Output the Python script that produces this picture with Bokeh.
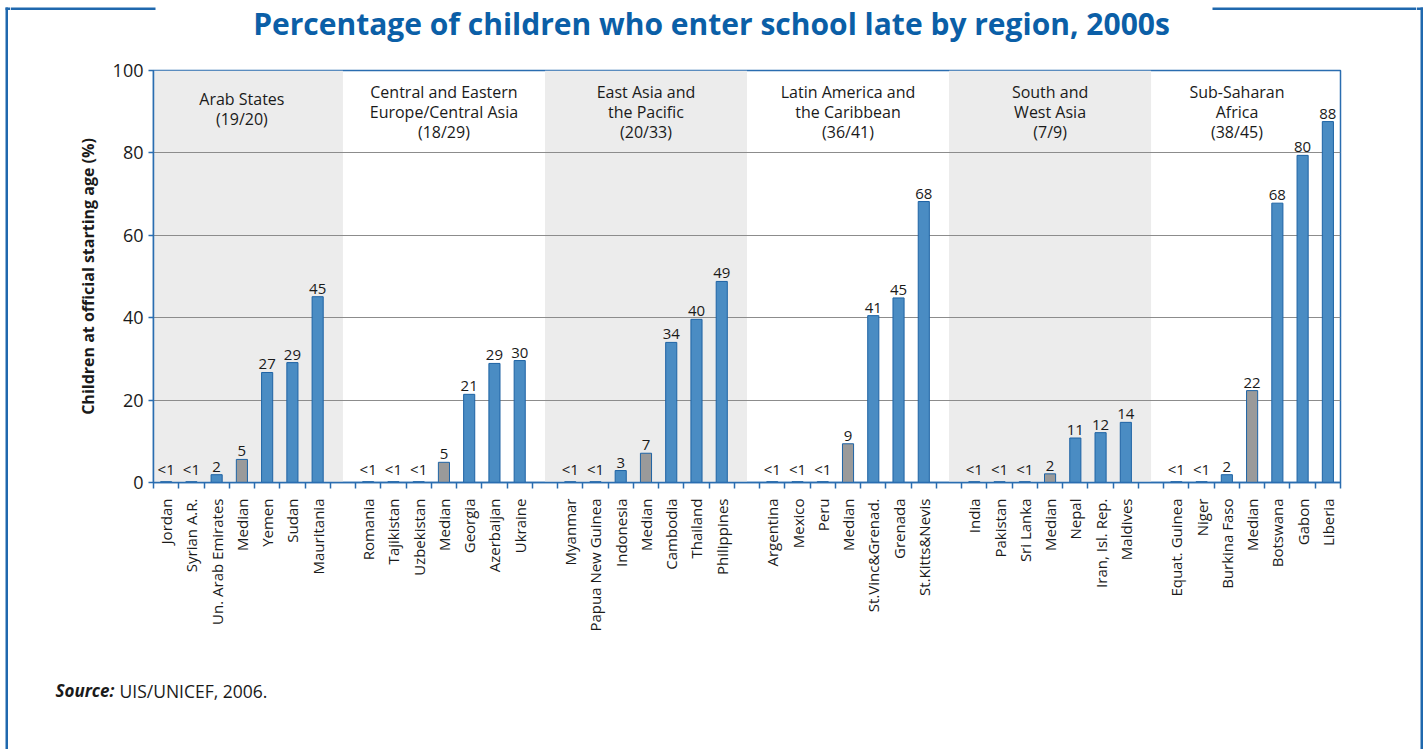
import math
from bokeh.plotting import figure
from bokeh.layouts import row, column
from bokeh.models import FixedTicker, BoxAnnotation, ColumnDataSource, Range1d
from bokeh.core.properties import value
from bokeh.embed import file_html
from bokeh.resources import INLINE

# ---------------- data ----------------
region_lines = [
    ["Arab States", "(19/20)"],
    ["Central and Eastern", "Europe/Central Asia", "(18/29)"],
    ["East Asia and", "the Pacific", "(20/33)"],
    ["Latin America and", "the Caribbean", "(36/41)"],
    ["South and", "West Asia", "(7/9)"],
    ["Sub-Saharan", "Africa", "(38/45)"],
]

arab_countries = ["Jordan", "Syrian A.R.", "Un. Arab Emirates", "Median", "Yemen", "Sudan", "Mauritania"]
arab_values = [0.2, 0.2, 1.9, 5.6, 26.7, 29.1, 45.1]
arab_labels = ["<1", "<1", "2", "5", "27", "29", "45"]

cee_countries = ["Romania", "Tajikistan", "Uzbekistan", "Median", "Georgia", "Azerbaijan", "Ukraine"]
cee_values = [0.2, 0.2, 0.2, 4.9, 21.4, 28.9, 29.6]
cee_labels = ["<1", "<1", "<1", "5", "21", "29", "30"]

eap_countries = ["Myanmar", "Papua New Guinea", "Indonesia", "Median", "Cambodia", "Thailand", "Philippines"]
eap_values = [0.2, 0.2, 2.9, 7.1, 34.0, 39.6, 48.8]
eap_labels = ["<1", "<1", "3", "7", "34", "40", "49"]

lac_countries = ["Argentina", "Mexico", "Peru", "Median", "St.Vinc&Grenad.", "Grenada", "St.Kitts&Nevis"]
lac_values = [0.2, 0.2, 0.2, 9.4, 40.5, 44.8, 68.2]
lac_labels = ["<1", "<1", "<1", "9", "41", "45", "68"]

swa_countries = ["India", "Pakistan", "Sri Lanka", "Median", "Nepal", "Iran, Isl. Rep.", "Maldives"]
swa_values = [0.2, 0.2, 0.2, 2.1, 10.8, 12.1, 14.6]
swa_labels = ["<1", "<1", "<1", "2", "11", "12", "14"]

ssa_countries = ["Equat. Guinea", "Niger", "Burkina Faso", "Median", "Botswana", "Gabon", "Liberia"]
ssa_values = [0.2, 0.2, 1.9, 22.3, 67.8, 79.4, 87.6]
ssa_labels = ["<1", "<1", "2", "22", "68", "80", "88"]

y_ticks = [0, 20, 40, 60, 80, 100]

title_text = "Percentage of children who enter school late by region, 2000s"
y_title = "Children at official starting age (%)"
source_bold = "Source:"
source_rest = "UIS/UNICEF, 2006."

# ---------------- styling ----------------
FONT = "Open Sans"
BLUE = "#4a8cc3"
BLUE_LINE = "#1e63a4"
GREY = "#9a9a9a"
FRAME_BLUE = "#2a6db0"
BOX_BLUE = "#1f68ae"
TITLE_BLUE = "#0b5fa7"
SHADE = "#ececec"
TXT = "#1a1a1a"

groups = [
    (arab_countries, arab_values, arab_labels),
    (cee_countries, cee_values, cee_labels),
    (eap_countries, eap_values, eap_labels),
    (lac_countries, lac_values, lac_labels),
    (swa_countries, swa_values, swa_labels),
    (ssa_countries, ssa_values, ssa_labels),
]
SLOTS_PER_REGION = 8  # 7 bars + 1 gap
n_slots = SLOTS_PER_REGION * len(groups) - 1

xs, tops, labs, names, colors = [], [], [], [], []
for r, (cn, vals, lbls) in enumerate(groups):
    for j, (c, v, l) in enumerate(zip(cn, vals, lbls)):
        xs.append(r * SLOTS_PER_REGION + j)
        tops.append(v)
        labs.append(l)
        names.append(c)
        colors.append(GREY if c == "Median" else BLUE)

src = ColumnDataSource(dict(x=xs, top=tops, lab=labs, color=colors))

# ---------------- page geometry ----------------
PAGE_W, PAGE_H = 1426, 749
STRIP_W = 10
INNER_W = PAGE_W - 2 * STRIP_W
TOP_H = 48
MAIN_H = 592
BOT_H = PAGE_H - TOP_H - MAIN_H

FRAME_W, FRAME_H = 1187, 412
BL, BT = 143, 22

# outer box geometry (page pixels)
BOX_L0, BOX_L1 = 5, 7.5
BOX_R0, BOX_R1 = 1420, 1422.5
BOX_T0, BOX_T1 = 7, 9.5


def no_align(f):
    try:
        f.frame_align = False
    except Exception:
        pass


def blank(w, h):
    f = figure(width=w, height=h, x_range=Range1d(0, w), y_range=Range1d(h, 0),
               output_backend="svg", toolbar_location=None,
               x_axis_type=None, y_axis_type=None,
               min_border=0, min_border_left=0, min_border_right=0,
               min_border_top=0, min_border_bottom=0)
    f.outline_line_color = None
    f.background_fill_color = "white"
    f.border_fill_color = "white"
    f.xgrid.visible = False
    f.ygrid.visible = False
    no_align(f)
    return f


def rule(f, l, r_, t, b):
    f.quad(left=[l], right=[r_], top=[t], bottom=[b], fill_color=BOX_BLUE,
           line_color=None)


# ---------------- main chart ----------------
p = figure(frame_width=FRAME_W, frame_height=FRAME_H,
           x_range=Range1d(-0.5, n_slots - 0.5), y_range=Range1d(0, 100),
           output_backend="svg", toolbar_location=None,
           min_border_left=BL, min_border_top=BT,
           min_border_right=INNER_W - BL - FRAME_W,
           min_border_bottom=MAIN_H - BT - FRAME_H)
no_align(p)
p.background_fill_color = "white"
p.border_fill_color = "white"
p.outline_line_color = FRAME_BLUE
p.outline_line_width = 1.5

for r in range(0, len(groups), 2):
    left = -0.5 if r == 0 else r * SLOTS_PER_REGION - 1.0
    right = r * SLOTS_PER_REGION + 7.0
    p.add_layout(BoxAnnotation(left=left, right=right, fill_color=SHADE, fill_alpha=1,
                               line_color=None, level="image"))

p.xgrid.grid_line_color = None
p.ygrid.ticker = FixedTicker(ticks=y_ticks[1:-1])
p.ygrid.grid_line_color = "#8c8c8c"
p.ygrid.grid_line_width = 1

p.vbar(x="x", top="top", bottom=0, width=0.44, source=src,
       fill_color="color", line_color=BLUE_LINE, line_width=1)

p.text(x="x", y="top", text="lab", source=src, text_align="center", text_baseline="bottom",
       y_offset=-3, text_font=value(FONT), text_font_size="15px", text_color=TXT)

px_per_unit = FRAME_H / 100.0
rx, ry, rt = [], [], []
for r, lines in enumerate(region_lines):
    cx = r * SLOTS_PER_REGION + 3 - (0.6 if r == len(groups) - 1 else 0)
    first = 21.5 if len(lines) == 3 else 28.0
    for k, t in enumerate(lines):
        rx.append(cx)
        ry.append(100 - (first + 20 * k) / px_per_unit)
        rt.append(t)
p.text(x=rx, y=ry, text=rt, text_align="center", text_baseline="middle",
       text_font=value(FONT), text_font_size="16px", text_color=TXT)

xa = p.xaxis[0]
xa.ticker = FixedTicker(ticks=xs, minor_ticks=[k - 0.5 for k in range(n_slots + 1)])
xa.major_label_overrides = {x: n for x, n in zip(xs, names)}
xa.major_label_orientation = math.pi / 2
xa.major_tick_line_color = None
xa.major_tick_out = 0
xa.major_tick_in = 0
xa.minor_tick_line_color = FRAME_BLUE
xa.minor_tick_out = 6
xa.minor_tick_in = 0
xa.minor_tick_line_width = 1.5
xa.axis_line_color = FRAME_BLUE
xa.axis_line_width = 1.5
xa.major_label_standoff = 10
xa.major_label_text_font = FONT
xa.major_label_text_font_size = "15px"
xa.major_label_text_color = TXT

ya = p.yaxis[0]
ya.ticker = FixedTicker(ticks=y_ticks)
ya.axis_line_color = FRAME_BLUE
ya.axis_line_width = 1.5
ya.major_tick_line_color = FRAME_BLUE
ya.major_tick_line_width = 1.5
ya.major_tick_out = 5
ya.major_tick_in = 0
ya.minor_tick_line_color = None
ya.major_label_standoff = 5
ya.major_label_text_font = FONT
ya.major_label_text_font_size = "18px"
ya.major_label_text_color = TXT
ya.axis_label = y_title
ya.axis_label_text_font = FONT
ya.axis_label_text_font_style = "bold"
ya.axis_label_text_font_size = "16px"
ya.axis_label_text_color = TXT
ya.axis_label_standoff = 11

# ---------------- title band (between the strips) ----------------
OFF = STRIP_W  # page x of the inner column
top = blank(INNER_W, TOP_H)
rule(top, 0, 155 - OFF, BOX_T0, BOX_T1)
rule(top, 1212 - OFF, INNER_W, BOX_T0, BOX_T1)
top.text(x=[711 - OFF], y=[2], text=[title_text], text_align="center",
         text_baseline="top", text_font=value(FONT), text_font_size="30px",
         text_font_style="bold", text_color=TITLE_BLUE)

# ---------------- source band ----------------
bot = blank(INNER_W, BOT_H)
bot.text(x=[55 - OFF], y=[50], text=[source_bold], text_align="left", text_baseline="middle",
         text_font=value(FONT), text_font_size="17px", text_font_style="bold italic",
         text_color=TXT)
bot.text(x=[119 - OFF], y=[50], text=[source_rest], text_align="left", text_baseline="middle",
         text_font=value(FONT), text_font_size="17.5px", text_color=TXT)

# ---------------- full-height side strips of the outer box ----------------
left_strip = blank(STRIP_W, PAGE_H)
rule(left_strip, BOX_L0, BOX_L1, BOX_T0, PAGE_H)
rule(left_strip, BOX_L0, STRIP_W, BOX_T0, BOX_T1)

RX = PAGE_W - STRIP_W
right_strip = blank(STRIP_W, PAGE_H)
rule(right_strip, BOX_R0 - RX, BOX_R1 - RX, BOX_T0, PAGE_H)
rule(right_strip, 0, BOX_R1 - RX, BOX_T0, BOX_T1)

layout = row(left_strip, column(top, p, bot, spacing=0), right_strip, spacing=0)

open("out.html", "w").write(file_html(layout, INLINE))
